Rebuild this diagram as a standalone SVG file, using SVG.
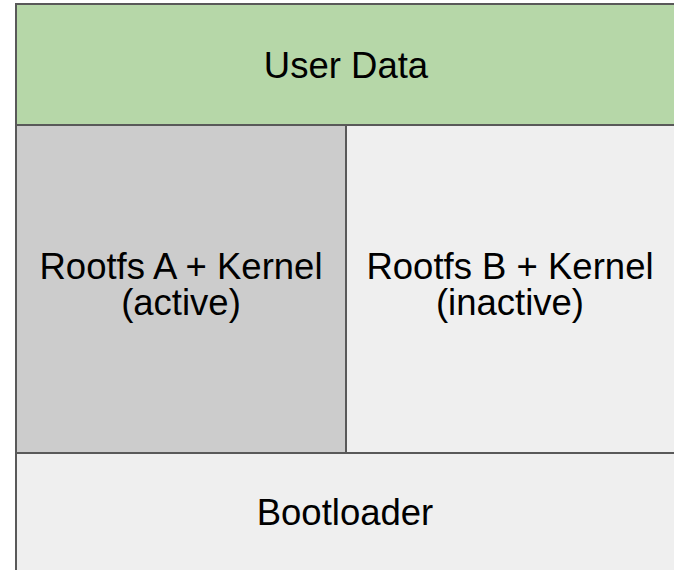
<svg xmlns="http://www.w3.org/2000/svg" width="674" height="570" viewBox="0 0 674 570">
<style>
rect.box{stroke:#595959;stroke-width:2}
text{font-family:"Liberation Sans",Arial,Helvetica,sans-serif;font-size:36.5px;fill:#000;text-anchor:middle}
</style>
<rect width="674" height="570" fill="#ffffff"/>
<g id="user-data">
<rect class="box" x="16" y="4" width="670" height="121" fill="#b6d7a8"/>
<text x="346" y="78">User Data</text>
</g>
<g id="rootfs-a">
<rect class="box" x="16" y="125" width="330" height="328" fill="#cccccc"/>
<text x="181" y="279">Rootfs A + Kernel</text>
<text x="181" y="315">(active)</text>
</g>
<g id="rootfs-b">
<rect class="box" x="346" y="125" width="340" height="328" fill="#efefef"/>
<text x="510" y="279">Rootfs B + Kernel</text>
<text x="510" y="315">(inactive)</text>
</g>
<g id="bootloader">
<rect class="box" x="16" y="453" width="670" height="130" fill="#efefef"/>
<text x="345" y="525">Bootloader</text>
</g>
<g id="connectors"></g>
</svg>
